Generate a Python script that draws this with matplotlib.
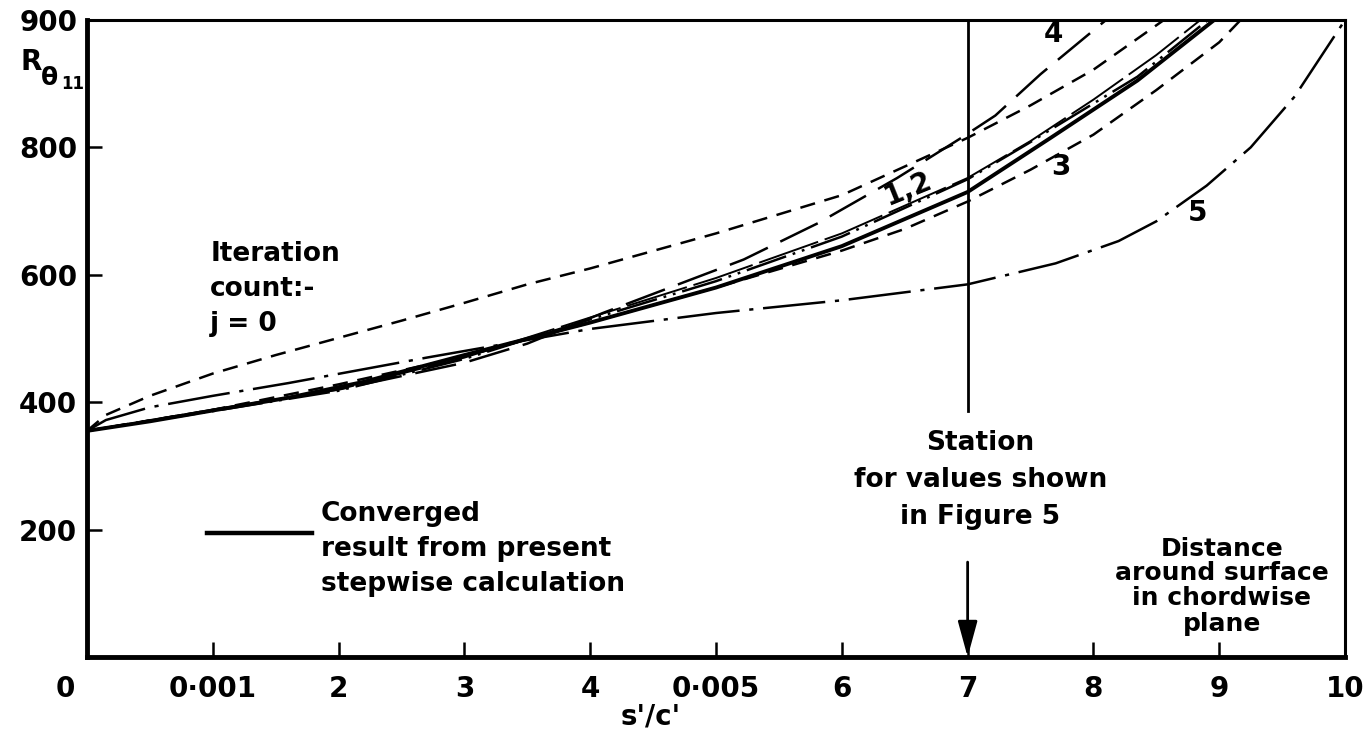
import matplotlib.pyplot as plt

plt.rcParams['font.family'] = 'DejaVu Sans'
plt.rcParams['font.weight'] = 'bold'
plt.rcParams['lines.scale_dashes'] = False

# converged result of the stepwise calculation
conv_x = [0, 0.5, 1, 1.6, 2.2, 3, 4, 5, 6, 7, 7.66, 8.35, 8.96]
conv_y = [355, 370, 387, 407, 432, 474, 525, 580, 645, 730, 815, 905, 1000]

# iteration j = 0
j0_x = [0, 0.15, 0.5, 1, 1.5, 2, 2.5, 3, 3.5, 4, 5, 6, 7, 7.5, 8, 8.56]
j0_y = [355, 380, 410, 445, 474, 501, 528, 556, 585, 610, 665, 725, 815, 866, 922, 1000]

# iterations 1 and 2
it1_x = [0, 1, 2, 3, 4, 5, 6, 7, 7.5, 8, 8.5, 8.85]
it1_y = [355, 388, 420, 470, 533, 595, 665, 752, 810, 875, 945, 1000]
it2_x = [0, 1, 2, 3, 4, 5, 6, 7, 7.48, 7.66, 8.35, 8.91]
it2_y = [355, 386, 418, 468, 530, 590, 660, 750, 806, 828, 911, 1000]

# iteration 3
it3_x = [0, 1, 2, 3, 4, 5, 6, 6.5, 7, 7.5, 8, 8.5, 9, 9.17]
it3_y = [355, 388, 428, 472, 525, 580, 638, 672, 715, 765, 820, 890, 965, 1000]

# iteration 4
it4_x = [0, 1, 2, 3, 3.5, 4.1, 4.7, 5.22, 5.81, 6.44, 6.95, 7.22, 7.58, 8.1]
it4_y = [355, 388, 420, 462, 492, 540, 585, 624, 681, 752, 815, 850, 915, 1000]

# iteration 5
it5_x = [0, 0.15, 0.5, 1, 1.6, 2.7, 4.0, 5.0, 6.0, 7.0, 7.7, 8.2, 8.5, 8.9, 9.25, 9.6, 10.0]
it5_y = [355, 372, 392, 410, 430, 470, 515, 540, 560, 585, 618, 653, 684, 740, 800, 880, 1000]

xtick_pos = [1, 2, 3, 4, 5, 6, 7, 8, 9, 10]
xtick_lab = ['0·001', '2', '3', '4', '0·005', '6', '7', '8', '9', '10']
ytick_pos = [200, 400, 600, 800, 1000]
ytick_lab = ['200', '400', '600', '800', '900']

station = 7
fs = 19
tfs = 20

fig = plt.figure(figsize=(13.64, 7.35), dpi=100)
ax = fig.add_axes([0.0638, 0.1061, 0.9223, 0.8667])

ax.plot(j0_x, j0_y, color='k', lw=1.8, ls=(0, (11, 7)))
ax.plot(it1_x, it1_y, color='k', lw=1.4, ls=(0, (45, 5)))
ax.plot(it2_x, it2_y, color='k', lw=1.8, ls=(0, (30, 5, 2, 5, 2, 5)))
ax.plot(it3_x, it3_y, color='k', lw=1.8, ls=(0, (11, 7)))
ax.plot(it4_x, it4_y, color='k', lw=1.8, ls=(0, (30, 10)))
ax.plot(it5_x, it5_y, color='k', lw=1.8, ls=(0, (45, 7, 3, 7)))
ax.plot(conv_x, conv_y, color='k', lw=2.8, solid_capstyle='round')

# curve numbers
ax.text(7.68, 978, '4', fontsize=tfs, ha='center', va='center')
ax.text(6.53, 736, '1,2', fontsize=tfs, ha='center', va='center', rotation=22)
ax.text(7.74, 769, '3', fontsize=tfs, ha='center', va='center')
ax.text(8.83, 697, '5', fontsize=tfs, ha='center', va='center')

# station line and arrow
ax.plot([station, station], [386, 1000], color='k', lw=2.0)
ax.annotate('', xy=(station, 0), xytext=(station, 149),
            arrowprops=dict(arrowstyle='-|>,head_length=1.1,head_width=0.3',
                            color='k', lw=2.0, mutation_scale=20,
                            shrinkA=0, shrinkB=0))
for txt, yy in zip(['Station', 'for values shown', 'in Figure 5'], [336, 278, 220]):
    ax.text(7.1, yy, txt, fontsize=fs, ha='center', va='center')

for txt, yy in zip(['Distance', 'around surface', 'in chordwise', 'plane'],
                   [170, 132, 93, 52]):
    ax.text(9.02, yy, txt, fontsize=fs - 1, ha='center', va='center')

for txt, yy in zip(['Iteration', 'count:-', 'j = 0'], [633, 578, 523]):
    ax.text(0.98, yy, txt, fontsize=fs, ha='left', va='center')

# legend for the converged curve
ax.plot([0.095, 0.179], [0.195, 0.195], color='k', lw=3.2, transform=ax.transAxes)
for txt, yy in zip(['Converged', 'result from present', 'stepwise calculation'],
                   [0.224, 0.169, 0.114]):
    ax.text(0.186, yy, txt, fontsize=fs, ha='left', va='center',
            transform=ax.transAxes)

ax.set_xlim(0, 10)
ax.set_ylim(0, 1000)
ax.set_xticks(xtick_pos)
ax.set_xticklabels(xtick_lab, fontsize=tfs)
ax.set_yticks(ytick_pos)
ax.set_yticklabels(ytick_lab, fontsize=tfs)
ax.tick_params(direction='in', length=11, width=1.8, top=False, right=False)
ax.tick_params(axis='x', pad=13)
ax.tick_params(axis='y', pad=7)
ax.spines['left'].set_linewidth(3.5)
ax.spines['bottom'].set_linewidth(3.5)
ax.spines['top'].set_linewidth(2.2)
ax.spines['right'].set_linewidth(2.2)

ax.text(-0.17, -0.028, '0', fontsize=tfs, ha='center', va='top',
        transform=ax.get_xaxis_transform())

# axis titles
fig.text(0.0147, 0.9156, 'R', fontsize=20, ha='left', va='center')
fig.text(0.0300, 0.8935, 'θ', fontsize=18, ha='left', va='center')
fig.text(0.0450, 0.8860, '11', fontsize=12, ha='left', va='center')
fig.text(0.477, 0.025, "s'/c'", fontsize=tfs, ha='center', va='center')

fig.savefig('out.png', dpi=100)
